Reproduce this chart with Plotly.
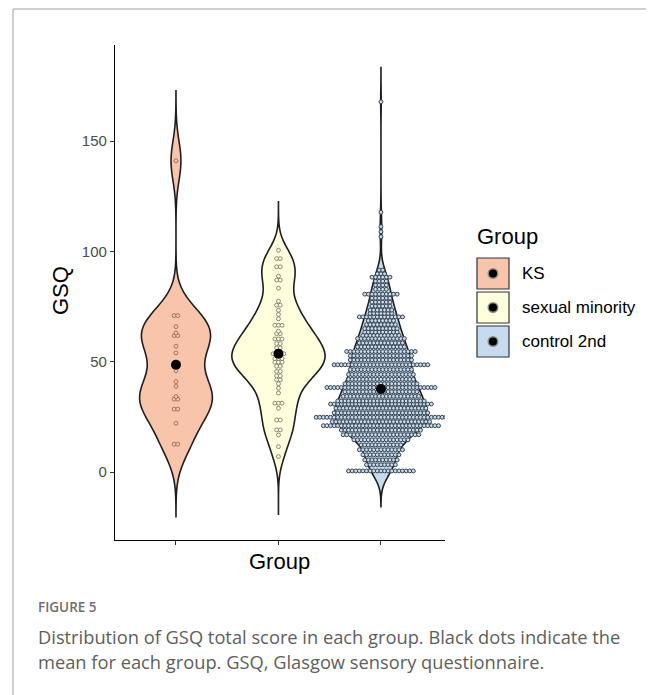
import numpy as np
import plotly.graph_objects as go

# ---------------- data ----------------
groups = ["KS", "sexual minority", "control 2nd"]
group_x = [1, 2, 3]
fill_colors = ["#F9C5AA", "#FFFEDD", "#C6DBEE"]
dot_line_colors = ["#8C5E4E", "#6F6F5E", "#37424D"]
dot_line_widths = [0.8, 0.8, 1.0]
group_means = [48.6, 53.6, 37.6]
y_ticks = [0, 50, 100, 150]

ks_scores = [141, 70.9, 70.9, 65.9, 63.0, 61.8, 61.8, 57.0, 54.0, 45.9,
             41.0, 38.8, 34.2, 33.0, 33.0, 28.5, 28.5, 22.1, 12.6, 12.6]

sm_values = [100.5, 96.7, 93.0, 88.8, 87.0, 83.3, 77.4, 75.6, 73.3, 71.4,
             69.4, 66.5, 63.8, 62.7, 60.3, 58.2, 56.2, 53.6, 51.4, 49.8,
             47.9, 45.6, 43.6, 41.8, 40.0, 38.0, 35.8, 31.2, 28.9, 23.6,
             19.1, 16.8, 11.5, 7.0]
sm_counts = [1, 2, 2, 1, 2, 1, 1, 2, 1, 1,
             1, 3, 1, 2, 3, 2, 2, 4, 3, 3,
             2, 2, 2, 2, 1, 1, 1, 3, 1, 2,
             2, 1, 1, 1]

ctrl_values = [91.5, 89.8, 88.3, 86.5, 84.7, 82.8, 80.6, 78.8, 77.0, 75.2,
               73.4, 71.9, 70.3, 68.6, 66.8, 65.0, 63.4, 61.9, 60.5, 58.5,
               56.7, 54.6, 52.7, 50.8, 48.6, 46.4, 44.2, 42.0, 40.0, 38.3,
               36.4, 34.3, 32.2, 30.8, 28.9, 26.8, 24.8, 22.8, 21.0, 19.0,
               16.9, 14.6, 12.3, 10.1, 7.8, 5.5, 3.3, 0.5]
ctrl_counts = [2, 3, 6, 4, 4, 4, 10, 6, 6, 6,
               7, 7, 13, 8, 9, 10, 10, 11, 14, 13,
               14, 20, 18, 18, 27, 18, 19, 19, 21, 31,
               21, 22, 25, 29, 26, 27, 37, 28, 33, 23,
               22, 16, 12, 13, 11, 10, 9, 19]
ctrl_outliers = [167.8, 117.7, 111.2, 108.9, 106.6]

bandwidths = [9.0, 6.0, 5.0]
spans = [[-20.2, 172.8], [-19.5, 122.5], [-15.7, 183.7]]
violin_widths = [0.71, 0.91, 0.90]

# ---------------- build ----------------
sm_scores = list(np.repeat(sm_values, sm_counts))
ctrl_scores = list(np.repeat(ctrl_values, ctrl_counts)) + ctrl_outliers
all_scores = [ks_scores, sm_scores, ctrl_scores]

# page body has an 8px margin; screen coordinates below are of the final picture
OFF = 8
SW, SH = 654, 695
W, H = SW - OFF, SH - OFF
L, R, T, B = 115, 445, 45, 540          # plotting area in screen pixels
XR = [0.405, 3.625]
YR = [-30.8, 193.5]
px_per_x = (R - L) / (XR[1] - XR[0])


def px2x(px):
    return (px - L) / (R - L)


def px2y(py):
    return (B - py) / (B - T)


dot_step = 3.6 / px_per_x
FONT = "Liberation Sans, Arial"

fig = go.Figure()

for i, g in enumerate(groups):
    fig.add_trace(go.Violin(
        x0=group_x[i], y=all_scores[i], name=g,
        fillcolor=fill_colors[i], opacity=1,
        line=dict(color="#1E1E1E", width=1.6),
        points=False, box_visible=False, meanline_visible=False,
        bandwidth=bandwidths[i], spanmode="manual", span=spans[i],
        width=violin_widths[i], scalemode="width", scalegroup=g,
        showlegend=False, hoverinfo="skip",
    ))

for i, g in enumerate(groups):
    vals, cnts = np.unique(np.round(all_scores[i], 2), return_counts=True)
    xs, ys = [], []
    for v, c in zip(vals, cnts):
        for k in range(c):
            xs.append(group_x[i] + (k - (c - 1) / 2) * dot_step)
            ys.append(v)
    fig.add_trace(go.Scatter(
        x=xs, y=ys, mode="markers", showlegend=False, hoverinfo="skip",
        marker=dict(size=3.9, color=fill_colors[i],
                    line=dict(color=dot_line_colors[i], width=dot_line_widths[i])),
    ))

fig.add_trace(go.Scatter(
    x=group_x, y=group_means, mode="markers", showlegend=False,
    hoverinfo="skip", marker=dict(size=10, color="black"),
))

shapes = []
annotations = []

# figure frame (left and top rules)
shapes.append(dict(type="line", xref="paper", yref="paper",
                   x0=px2x(13), x1=px2x(13), y0=px2y(9), y1=px2y(SH + 5),
                   line=dict(color="#A0A0A0", width=1)))
shapes.append(dict(type="line", xref="paper", yref="paper",
                   x0=px2x(13), x1=px2x(SW + 5), y0=px2y(9), y1=px2y(9),
                   line=dict(color="#A0A0A0", width=1)))

# custom legend
annotations.append(dict(text="Group", xref="paper", yref="paper",
                        x=px2x(475), y=px2y(236), xanchor="left", yanchor="middle",
                        showarrow=False,
                        font=dict(size=22, color="black", family=FONT)))
box_tops = [258, 292, 326]
for i, g in enumerate(groups):
    y0 = box_tops[i]
    shapes.append(dict(type="rect", xref="paper", yref="paper",
                       x0=px2x(477), x1=px2x(509), y0=px2y(y0), y1=px2y(y0 + 31),
                       fillcolor=fill_colors[i], line=dict(color="#333333", width=1.2)))
    cx, cy = 493, y0 + 15.5
    shapes.append(dict(type="circle", xref="paper", yref="paper",
                       x0=px2x(cx - 5.5), x1=px2x(cx + 5.5), y0=px2y(cy - 5.5), y1=px2y(cy + 5.5),
                       fillcolor="#8A8A8A", line=dict(width=0)))
    shapes.append(dict(type="circle", xref="paper", yref="paper",
                       x0=px2x(cx - 4), x1=px2x(cx + 4), y0=px2y(cy - 4), y1=px2y(cy + 4),
                       fillcolor="black", line=dict(width=0)))
    annotations.append(dict(text=g, xref="paper", yref="paper",
                            x=px2x(520), y=px2y(cy), xanchor="left", yanchor="middle",
                            showarrow=False,
                            font=dict(size=17, color="black", family=FONT)))

# axis titles
annotations.append(dict(text="GSQ", xref="paper", yref="paper", x=px2x(60), y=px2y(291),
                        textangle=-90, showarrow=False, xanchor="center", yanchor="middle",
                        font=dict(size=22, color="black", family=FONT)))
annotations.append(dict(text="Group", xref="paper", yref="paper", x=px2x(279), y=px2y(561),
                        showarrow=False, xanchor="center", yanchor="middle",
                        font=dict(size=22, color="black", family=FONT)))

# caption
annotations.append(dict(text="FIGURE 5", xref="paper", yref="paper", x=px2x(36), y=px2y(607),
                        showarrow=False, xanchor="left", yanchor="middle",
                        font=dict(size=13.5, color="#6E6E6E", family="Open Sans", weight=600)))
annotations.append(dict(text="Distribution of GSQ total score in each group. Black dots indicate the",
                        xref="paper", yref="paper", x=px2x(36), y=px2y(636),
                        showarrow=False, xanchor="left", yanchor="middle",
                        font=dict(size=18.3, color="#5E5E5E", family="Open Sans")))
annotations.append(dict(text="mean for each group. GSQ, Glasgow sensory questionnaire.",
                        xref="paper", yref="paper", x=px2x(36), y=px2y(661),
                        showarrow=False, xanchor="left", yanchor="middle",
                        font=dict(size=18.3, color="#5E5E5E", family="Open Sans")))

fig.update_layout(
    width=W, height=H,
    margin=dict(l=L - OFF, r=SW - R, t=T - OFF, b=SH - B, pad=0),
    paper_bgcolor="white", plot_bgcolor="white",
    violinmode="overlay",
    showlegend=False,
    shapes=shapes, annotations=annotations,
    font=dict(family=FONT, color="#4D4D4D"),
)
fig.update_xaxes(range=XR, showgrid=False, zeroline=False,
                 showline=True, linecolor="black", linewidth=1.2,
                 tickmode="array", tickvals=group_x, ticktext=["", "", ""],
                 ticks="outside", ticklen=4, tickcolor="#333333", tickwidth=1.1)
fig.update_yaxes(range=YR, showgrid=False, zeroline=False,
                 showline=True, linecolor="black", linewidth=1.2,
                 tickmode="array", tickvals=y_ticks,
                 ticks="outside", ticklen=4, tickcolor="#333333", tickwidth=1.1,
                 tickfont=dict(size=15, color="#4D4D4D"))

fig.write_html("out.html")
